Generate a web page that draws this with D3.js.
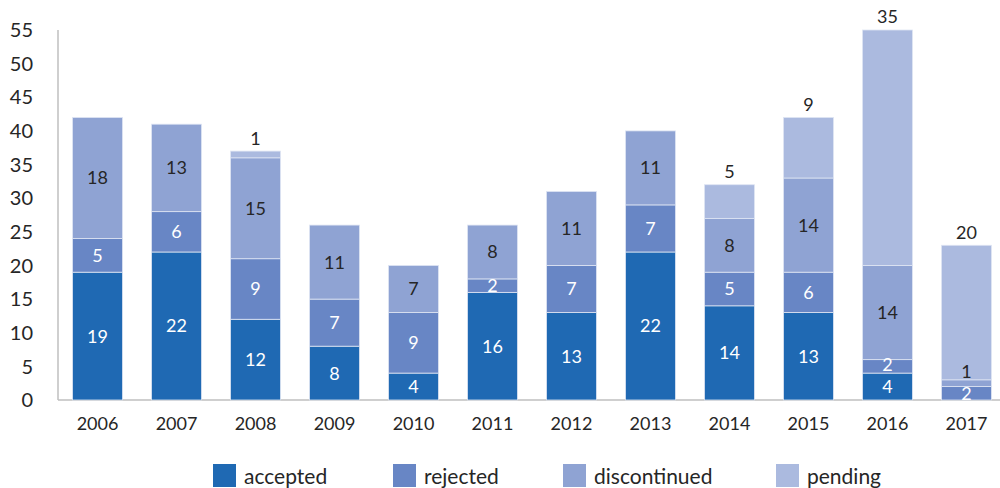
<!DOCTYPE html>
<html>
<head>
<meta charset="utf-8">
<script src="https://cdn.jsdelivr.net/npm/d3@7"></script>
<style>
  body { margin: 0; background: #fff; }
  svg text { font-family: Lato, "Open Sans", sans-serif; fill: #262626; }
</style>
</head>
<body>
<div id="chart"></div>
<script>
var years        = ["2006", "2007", "2008", "2009", "2010", "2011", "2012", "2013", "2014", "2015", "2016", "2017"];
var accepted     = [19, 22, 12,  8,  4, 16, 13, 22, 14, 13,  4,  0];
var rejected     = [ 5,  6,  9,  7,  9,  2,  7,  7,  5,  6,  2,  2];
var discontinued = [18, 13, 15, 11,  7,  8, 11, 11,  8, 14, 14,  1];
var pending      = [ 0,  0,  1,  0,  0,  0,  0,  0,  5,  9, 35, 20];
var seriesNames  = ["accepted", "rejected", "discontinued", "pending"];
var yTicks       = [0, 5, 10, 15, 20, 25, 30, 35, 40, 45, 50, 55];

var colors     = ["#1f69b3", "#6886c5", "#8fa3d3", "#abbadf"];
var labelFill  = ["#fff", "#fff", "#262626", "#262626"];

var width  = 1000,
    height = 488;

var svg = d3.select("#chart").append("svg").attr("width", width).attr("height", height);

// build rows for the stack
var rows = years.map(function (y, i) {
  return { year: y, accepted: accepted[i], rejected: rejected[i], discontinued: discontinued[i], pending: pending[i] };
});
var stacked = d3.stack().keys(seriesNames)(rows);

var x = d3.scaleBand().domain(years).range([58, 1006]).paddingInner(0.367).paddingOuter(0.184);
var y = d3.scaleLinear().domain([0, 55]).range([400, 30]);

// axis lines
svg.append("line").attr("x1", 58).attr("x2", 58).attr("y1", y(55)).attr("y2", y(0))
   .attr("stroke", "#bfbfbf").attr("stroke-width", 1.5);
svg.append("line").attr("x1", 58).attr("x2", width).attr("y1", y(0)).attr("y2", y(0))
   .attr("stroke", "#bfbfbf").attr("stroke-width", 1.5);

// y tick labels
svg.append("g").selectAll("text").data(yTicks).enter().append("text")
   .attr("x", 33).attr("y", function (d) { return y(d); })
   .attr("dy", "0.36em").attr("text-anchor", "end")
   .style("font-size", "20px")
   .text(function (d) { return d; });

// x labels
svg.append("g").selectAll("text").data(years).enter().append("text")
   .attr("x", function (d) { return x(d) + x.bandwidth() / 2; })
   .attr("y", 430).attr("text-anchor", "middle")
   .style("font-size", "18px")
   .text(function (d) { return d; });

// bars
var layers = svg.append("g").selectAll("g").data(stacked).enter().append("g")
   .attr("fill", function (d, i) { return colors[i]; });

layers.selectAll("rect").data(function (d) { return d; }).enter().append("rect")
   .filter(function (d) { return d[1] > d[0]; })
   .attr("x", function (d) { return x(d.data.year); })
   .attr("width", x.bandwidth())
   .attr("y", function (d) { return y(d[1]); })
   .attr("height", function (d) { return y(d[0]) - y(d[1]); })
   .attr("stroke", "#dfe5f3").attr("stroke-width", 0.8);

// segment labels
var labels = svg.append("g");
years.forEach(function (yr, i) {
  var lastY = Infinity;
  stacked.forEach(function (layer, k) {
    var d = layer[i];
    var v = d[1] - d[0];
    if (v <= 0) return;
    var ly;
    if (k === 3) {
      ly = y(d[1]) - 13;   // pending sits above the bar
    } else {
      ly = (y(d[0]) + y(d[1])) / 2;
      if (lastY - ly < 22) ly = lastY - 22;   // keep small slices' labels apart
    }
    lastY = ly;
    labels.append("text")
      .attr("x", x(yr) + x.bandwidth() / 2)
      .attr("y", ly).attr("dy", "0.36em")
      .attr("text-anchor", "middle")
      .style("font-size", "18px")
      .style("fill", k === 3 ? "#262626" : labelFill[k])
      .text(v);
  });
});

// legend
var legendX = [213, 393, 563, 776];
var legend = svg.append("g").selectAll("g").data(seriesNames).enter().append("g")
   .attr("transform", function (d, i) { return "translate(" + legendX[i] + ",464)"; });
legend.append("rect").attr("width", 23).attr("height", 23)
   .attr("fill", function (d, i) { return colors[i]; });
legend.append("text").attr("x", 31).attr("y", 20)
   .style("font-size", "21px")
   .text(function (d) { return d; });
</script>
</body>
</html>
